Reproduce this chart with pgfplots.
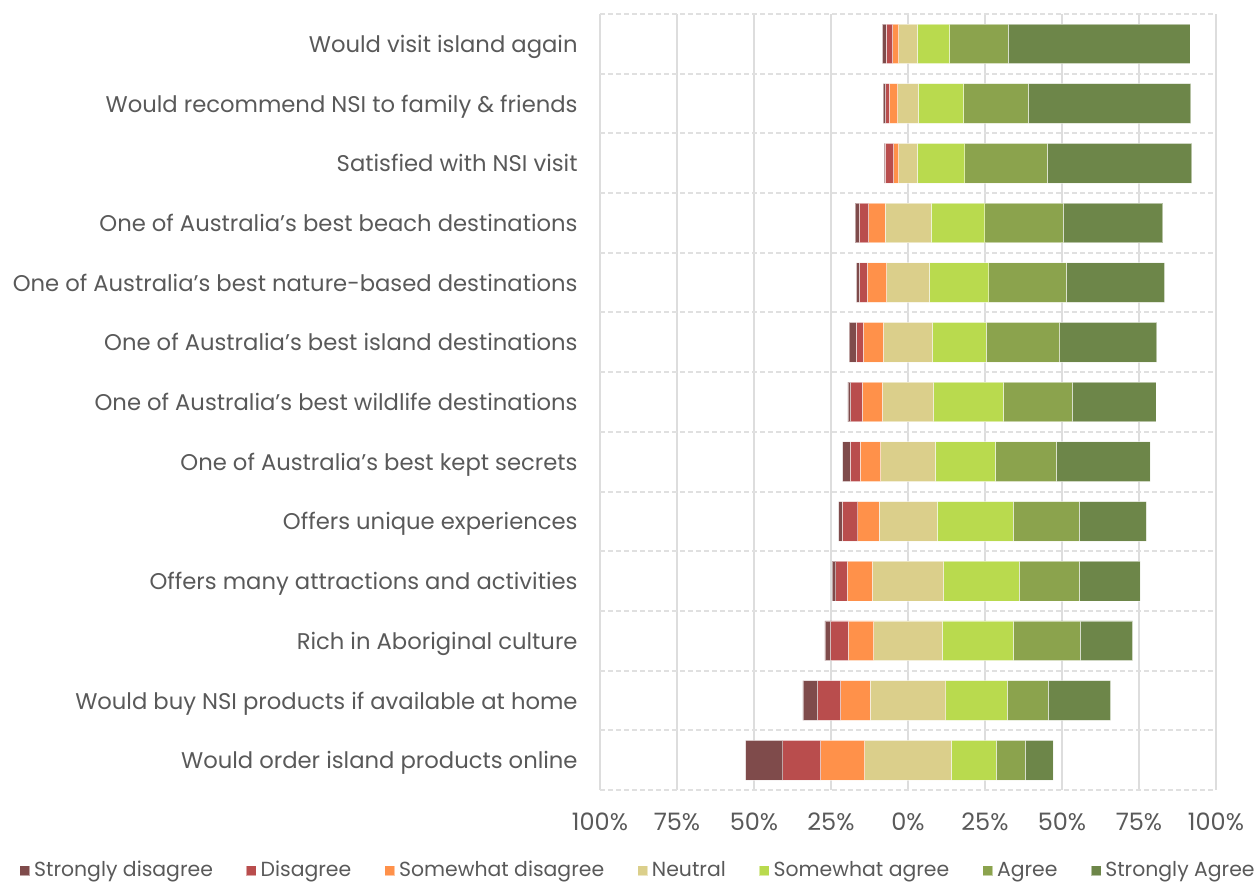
\documentclass[border=0pt]{standalone}
\usepackage{pgfplots}
\usepackage{pgfplotstable}
\usepackage{fontspec}
\setmainfont{Poppins}
\pgfplotsset{compat=1.18}
\definecolor{cSD}{HTML}{7F4B4B}
\definecolor{cD}{HTML}{B94D4D}
\definecolor{cSWD}{HTML}{FF914A}
\definecolor{cN}{HTML}{DBCF8B}
\definecolor{cSWA}{HTML}{B9DA4E}
\definecolor{cA}{HTML}{8BA34D}
\definecolor{cSA}{HTML}{6D8649}
\definecolor{txt}{HTML}{595959}
\definecolor{grd}{HTML}{DDDDDD}
\definecolor{grdd}{HTML}{E0E0E0}

\pgfplotstableread{
idx SD D SWD N SWA A SA
0 1.2 2.2 1.9 6.1 10.5 19.0 59.0
1 0.8 1.2 2.7 6.7 14.7 21.0 52.8
2 0.3 2.8 1.6 6.1 15.4 26.8 46.9
3 1.3 3.1 5.3 14.9 17.5 25.4 32.4
4 1.0 2.6 6.2 13.9 19.3 25.2 31.9
5 2.2 2.4 6.5 16.0 17.4 23.8 31.6
6 0.9 3.8 6.5 16.6 22.7 22.3 27.2
7 2.5 3.2 6.7 17.7 19.5 19.8 30.5
8 1.1 5.1 6.9 18.8 24.7 21.5 21.8
9 1.2 3.8 8.1 23.1 24.5 19.6 19.7
10 1.8 5.8 8.2 22.3 23.1 21.6 17.1
11 4.8 7.4 9.6 24.6 19.9 13.3 20.3
12 12.1 12.3 14.3 28.1 14.6 9.4 9.1
}\data

\begin{document}
\begin{tikzpicture}
\useasboundingbox (-300pt,-47pt) rectangle (327pt,395pt);
\begin{axis}[
  at={(0,0)}, anchor=south west,
  scale only axis, width=308pt, height=388pt,
  xbar stacked, stack negative=on previous, bar width=19.85pt,
  xmin=-100, xmax=100, ymin=-0.5, ymax=12.5, y dir=reverse,
  axis line style={draw=none},
  xtick={-100,-75,...,100},
  xticklabels={100\%,75\%,50\%,25\%,0\%,25\%,50\%,75\%,100\%},
  ytick={0,...,12},
  yticklabels={Would visit island again,
    Would recommend NSI to family \& friends,
    Satisfied with NSI visit,
    One of Australia’s best beach destinations,
    One of Australia’s best nature-based destinations,
    One of Australia’s best island destinations,
    One of Australia’s best wildlife destinations,
    One of Australia’s best kept secrets,
    Offers unique experiences,
    Offers many attractions and activities,
    Rich in Aboriginal culture,
    Would buy NSI products if available at home,
    Would order island products online},
  minor ytick={-0.5,0.5,...,12.5},
  xmajorgrids, yminorgrids,
  major grid style={grd, line width=1.2pt},
  minor grid style={grdd, line width=1pt, dash pattern=on 2.5pt off 1.5pt},
  tick style={draw=none},
  major tick length=0pt, minor tick length=0pt,
  xticklabel style={font=\fontsize{12}{14}\selectfont, text=txt, anchor=center, yshift=-16pt},
  yticklabel style={font=\fontsize{11.35}{13}\selectfont, text=txt, anchor=base east, inner sep=0pt, xshift=-11pt, yshift=-4.3pt},
  legend columns=7,
  legend cell align=left,
  legend entries={,Strongly disagree,Disagree,Somewhat disagree,Neutral,Somewhat agree,Agree,Strongly Agree},
  legend style={at={(0.0633,-0.104)}, anchor=center, draw=none, fill=none,
    font=\fontsize{10.2}{12}\selectfont, text=txt,
    /tikz/every even column/.append style={column sep=14.5pt}},
  legend image code/.code={\fill[#1] (0pt,-2.5pt) rectangle (5pt,2.5pt);},
]
\addplot[draw=none, fill=none] table[y=idx, x expr={-(\thisrow{SD}+\thisrow{D}+\thisrow{SWD}+0.5*\thisrow{N})}] \data;
\addplot[fill=cSD, draw=white, draw opacity=0.5, line width=0.4pt] table[y=idx, x=SD] \data;
\addplot[fill=cD, draw=white, draw opacity=0.5, line width=0.4pt] table[y=idx, x=D] \data;
\addplot[fill=cSWD, draw=white, draw opacity=0.5, line width=0.4pt] table[y=idx, x=SWD] \data;
\addplot[fill=cN, draw=white, draw opacity=0.5, line width=0.4pt] table[y=idx, x=N] \data;
\addplot[fill=cSWA, draw=white, draw opacity=0.5, line width=0.4pt] table[y=idx, x=SWA] \data;
\addplot[fill=cA, draw=white, draw opacity=0.5, line width=0.4pt] table[y=idx, x=A] \data;
\addplot[fill=cSA, draw=white, draw opacity=0.5, line width=0.4pt] table[y=idx, x=SA] \data;
\end{axis}
\end{tikzpicture}
\end{document}
